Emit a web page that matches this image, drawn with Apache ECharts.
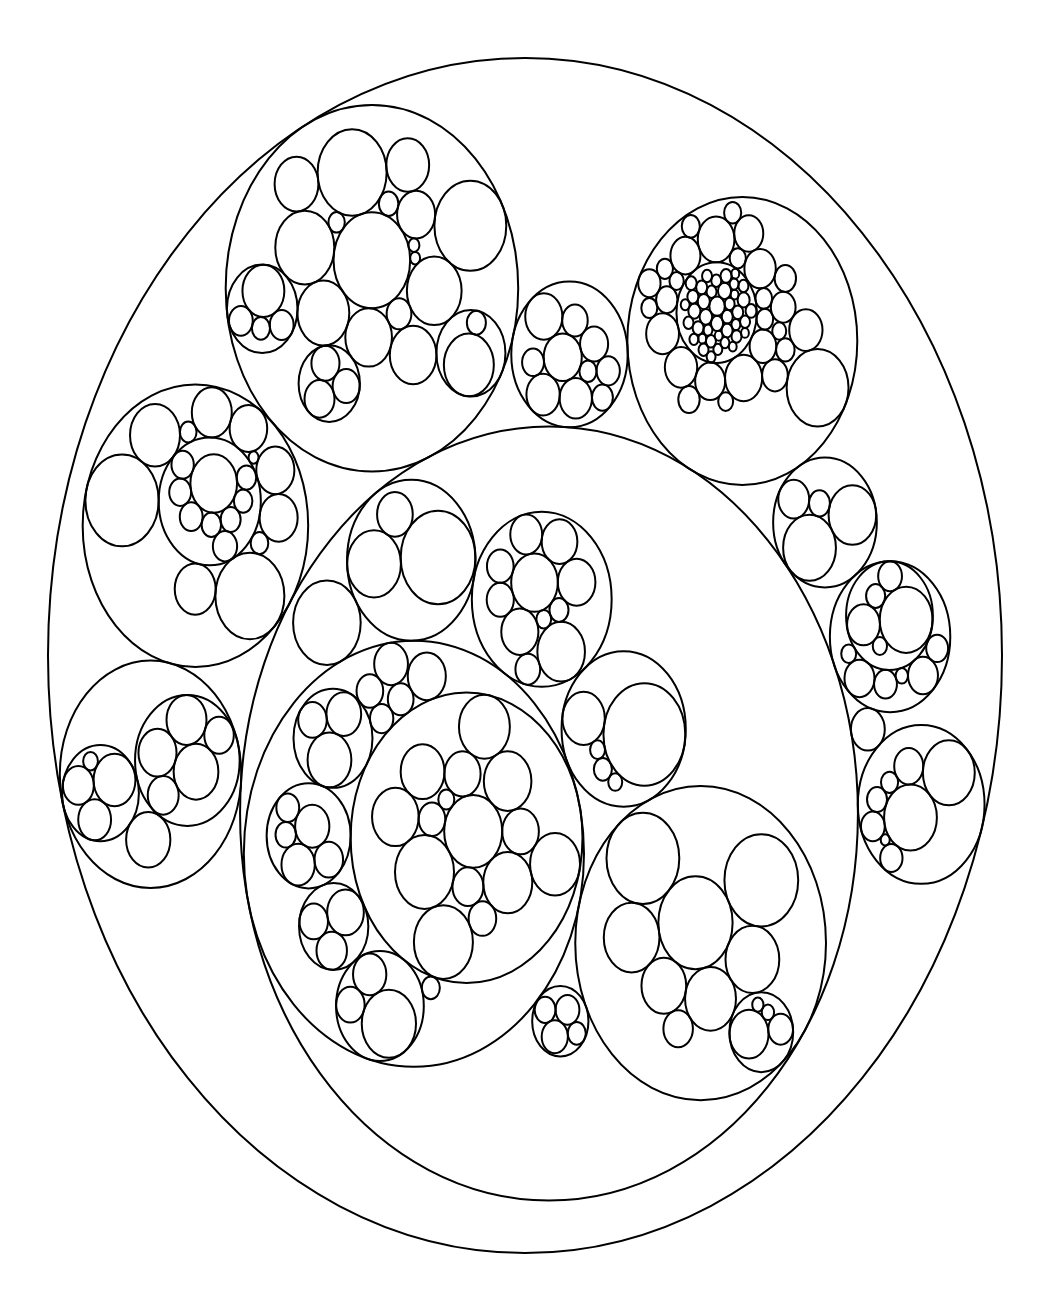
<!DOCTYPE html>
<html><head><meta charset="utf-8">
<script src="https://cdn.jsdelivr.net/npm/echarts@6/dist/echarts.min.js"></script>
<style>html,body{margin:0;padding:0;background:#fff}#chart{width:1050px;height:1312px}</style>
</head><body><div id="chart"></div>
<script>
// ---- DATA: leaf values (area units); each array lists a group's children in packing order ----
const groupD   = [1600, 324, 870, 1156, 718, 1225, 600, 484, 1521, 529];
const groupCS  = [264, 161, 134, 176, 110, 161, 134, 88, 190, 110, 134, 68, 110, 161, 88, 134, 110, 68, 134, 88,
                  110, 161, 68, 110, 134, 88, 110, 68, 134, 88, 110, 134, 68, 88, 110, 134, 88, 110, 68, 88];
const groupC   = [306, groupCS, 784, 306, 1521, 1089, 992, 289, 676, 1482, 1156, 216, 992, 506, 1190, 225, 930,
                  729, 506, 282, 324, 380, 246, 289, 552, 1225, 506, 4225, 361];
const groupB1  = [1936, 361, 625, 625];
const groupB2  = [870, 992, 812];
const groupB3  = [400, 2756];
const groupB   = [6480, 296, 3844, 5256, 2970, 420, 1600, 2401, 132, 2116, 110, 676, 3306, 2025, 5700, groupB1,
                  2401, groupB2, groupB3];
const groupE1  = [2401, 420, 441, 576, 380, 529, 420, 650, 552];
const groupE   = [groupE1, 110, 1560, 1600, 1764, 1600, 342, 306, 5256, 2756, 1849, 5929];
const groupF1  = [1936, 1056, 1190, 240];
const groupF2  = [1600, 2209, 1764, 1056, 961];
const groupF   = [2162, groupF2, groupF1];
const groupG   = [3080, 484, 1056, 2500];
const groupH1  = [1190, 3080, 400, 225, 625];
const groupH   = [groupH1, 169, 992, 576, 992, 529, 246];
const groupJ   = [441, 3080, 324, 625, 930, 90, 2970, 552];
const groupA1  = [6162, 1406, 3192];
const groupA3  = [240, 2401, 1521, 400, 812, 1560, 2500, 1406, 784, 676, 1122];
const groupA4  = [7396, 246, 361, 1980, 216];
const groupA5a = [1681, 169, 139, 676];
const groupA5  = [6084, 2862, 3192, 2209, 3422, 6006, 961, groupA5a, 5852];
const groupA6  = [756, 625, 484, 361];
const groupA7a = [3721, 1056, 2652, 3844, 1482, 784, 841, 3844, 282, 2500, 1444, 2862, 2401, 2756, 2116];
const groupA7b = [2116, 1332, 900];
const groupA7c = [1296, 1225, 900, 462, 576];
const groupA7d = [1482, 900, 1024];
const groupA7e = [3249, 1225, 900];
const groupA7  = [groupA7a, groupA7c, groupA7d, groupA7b, groupA7e, 600, 729, 361, 1600, 784, 1260];
const groupA   = [groupA7, groupA4, groupA3, groupA5, groupA1, groupA6, 5041];
const rootChildren = [groupA, groupD, groupB, groupC, groupG, groupE, groupH, groupF, 1267, groupJ];

// ---- layout option: orientation (degrees) of the first sibling pair in each group ----
const groupTilt = new Map([
  [rootChildren, -176.8], [groupA, -115.4], [groupB, 130.7], [groupC, 96.2], [groupD, -66.1], [groupE, -128.6],
  [groupE1, 4.1], [groupF, -148.3], [groupF1, 83.3], [groupF2, -68.5], [groupG, -164.4], [groupH, -14.4],
  [groupH1, -95.3], [groupJ, -66.8], [groupA1, 128.6], [groupA3, 162.4], [groupA4, 75.4], [groupA5, -13.9],
  [groupA5a, -132.6], [groupA6, -149.4], [groupA7, 90.6], [groupA7a, 6.8], [groupA7b, -158.6], [groupA7c, 24.7],
  [groupA7d, 77.2], [groupA7e, 154.0], [groupB1, 4.7], [groupB2, 11.8], [groupB3, 12.6]
]);

// ---- circle packing (front-chain algorithm, as in d3-hierarchy) ----
function Node(c) { this._ = c; this.next = null; this.previous = null; }
function place(b, a, c) {
  var dx = b.x - a.x, x, a2, dy = b.y - a.y, y, b2, d2 = dx * dx + dy * dy;
  if (d2) {
    a2 = a.r + c.r; a2 *= a2; b2 = b.r + c.r; b2 *= b2;
    if (a2 > b2) {
      x = (d2 + b2 - a2) / (2 * d2); y = Math.sqrt(Math.max(0, b2 / d2 - x * x));
      c.x = b.x - x * dx - y * dy; c.y = b.y - x * dy + y * dx;
    } else {
      x = (d2 + a2 - b2) / (2 * d2); y = Math.sqrt(Math.max(0, a2 / d2 - x * x));
      c.x = a.x + x * dx - y * dy; c.y = a.y + x * dy + y * dx;
    }
  } else { c.x = a.x + c.r; c.y = a.y; }
}
function intersects(a, b) { var dr = a.r + b.r - 1e-6, dx = b.x - a.x, dy = b.y - a.y; return dr > 0 && dr * dr > dx * dx + dy * dy; }
function score(node) {
  var a = node._, b = node.next._, ab = a.r + b.r,
      dx = (a.x * b.r + b.x * a.r) / ab, dy = (a.y * b.r + b.y * a.r) / ab;
  return dx * dx + dy * dy;
}
function lcg() { let s = 1; return () => (s = (1664525 * s + 1013904223) % 4294967296) / 4294967296; }
function shuffle(arr, random) { let m = arr.length, t, i; while (m) { i = random() * m-- | 0; t = arr[m]; arr[m] = arr[i]; arr[i] = t; } return arr; }
function enclosesNot(a, b) { var dr = a.r - b.r, dx = b.x - a.x, dy = b.y - a.y; return dr < 0 || dr * dr < dx * dx + dy * dy; }
function enclosesWeak(a, b) { var dr = a.r - b.r + Math.max(a.r, b.r, 1) * 1e-9, dx = b.x - a.x, dy = b.y - a.y; return dr > 0 && dr * dr > dx * dx + dy * dy; }
function enclosesWeakAll(a, B) { for (var i = 0; i < B.length; ++i) if (!enclosesWeak(a, B[i])) return false; return true; }
function encloseBasis2(a, b) {
  var x1 = a.x, y1 = a.y, r1 = a.r, x2 = b.x, y2 = b.y, r2 = b.r,
      x21 = x2 - x1, y21 = y2 - y1, r21 = r2 - r1, l = Math.sqrt(x21 * x21 + y21 * y21);
  return { x: (x1 + x2 + x21 / l * r21) / 2, y: (y1 + y2 + y21 / l * r21) / 2, r: (l + r1 + r2) / 2 };
}
function encloseBasis3(a, b, c) {
  var x1 = a.x, y1 = a.y, r1 = a.r, x2 = b.x, y2 = b.y, r2 = b.r, x3 = c.x, y3 = c.y, r3 = c.r,
      a2 = x1 - x2, a3 = x1 - x3, b2 = y1 - y2, b3 = y1 - y3, c2 = r2 - r1, c3 = r3 - r1,
      d1 = x1 * x1 + y1 * y1 - r1 * r1, d2 = d1 - x2 * x2 - y2 * y2 + r2 * r2, d3 = d1 - x3 * x3 - y3 * y3 + r3 * r3,
      ab = a3 * b2 - a2 * b3,
      xa = (b2 * d3 - b3 * d2) / (ab * 2) - x1, xb = (b3 * c2 - b2 * c3) / ab,
      ya = (a3 * d2 - a2 * d3) / (ab * 2) - y1, yb = (a2 * c3 - a3 * c2) / ab,
      A = xb * xb + yb * yb - 1, B = 2 * (r1 + xa * xb + ya * yb), C = xa * xa + ya * ya - r1 * r1,
      r = -(Math.abs(A) > 1e-6 ? (B + Math.sqrt(B * B - 4 * A * C)) / (2 * A) : C / B);
  return { x: x1 + xa + xb * r, y: y1 + ya + yb * r, r: r };
}
function encloseBasis(B) {
  if (B.length === 1) return { x: B[0].x, y: B[0].y, r: B[0].r };
  if (B.length === 2) return encloseBasis2(B[0], B[1]);
  return encloseBasis3(B[0], B[1], B[2]);
}
function extendBasis(B, p) {
  var i, j;
  if (enclosesWeakAll(p, B)) return [p];
  for (i = 0; i < B.length; ++i)
    if (enclosesNot(p, B[i]) && enclosesWeakAll(encloseBasis2(B[i], p), B)) return [B[i], p];
  for (i = 0; i < B.length - 1; ++i)
    for (j = i + 1; j < B.length; ++j)
      if (enclosesNot(encloseBasis2(B[i], B[j]), p) && enclosesNot(encloseBasis2(B[i], p), B[j]) &&
          enclosesNot(encloseBasis2(B[j], p), B[i]) && enclosesWeakAll(encloseBasis3(B[i], B[j], p), B))
        return [B[i], B[j], p];
  throw new Error('enclose');
}
function packEnclose(circles) {
  var i = 0, list = shuffle(circles.slice(), lcg()), n = list.length, B = [], p, e;
  while (i < n) { p = list[i]; if (e && enclosesWeak(e, p)) ++i; else { B = extendBasis(B, p); e = encloseBasis(B); i = 0; } }
  return e;
}
function packSiblings(circles) {
  var n = circles.length, a, b, c, aa, ca, i, j, k, sj, sk;
  if (!n) return 0;
  a = circles[0]; a.x = 0; a.y = 0;
  if (n === 1) return a.r;
  b = circles[1]; a.x = -b.r; b.x = a.r; b.y = 0;
  if (n === 2) return a.r + b.r;
  place(b, a, c = circles[2]);
  a = new Node(a); b = new Node(b); c = new Node(c);
  a.next = c.previous = b; b.next = a.previous = c; c.next = b.previous = a;
  pack: for (i = 3; i < n; ++i) {
    place(a._, b._, c = circles[i]); c = new Node(c);
    j = b.next; k = a.previous; sj = b._.r; sk = a._.r;
    do {
      if (sj <= sk) {
        if (intersects(j._, c._)) { b = j; a.next = b; b.previous = a; --i; continue pack; }
        sj += j._.r; j = j.next;
      } else {
        if (intersects(k._, c._)) { a = k; a.next = b; b.previous = a; --i; continue pack; }
        sk += k._.r; k = k.previous;
      }
    } while (j !== k.next);
    c.previous = a; c.next = b; a.next = b.previous = b = c;
    aa = score(a);
    while ((c = c.next) !== b) { if ((ca = score(c)) < aa) { a = c; aa = ca; } }
    b = a.next;
  }
  a = [b._]; c = b; while ((c = c.next) !== b) a.push(c._);
  c = packEnclose(a);
  for (i = 0; i < n; ++i) { a = circles[i]; a.x -= c.x; a.y -= c.y; }
  return c.r;
}

// ---- build hierarchy from the arrays ----
function build(item) {
  if (Array.isArray(item)) return { children: item.map(build), tilt: groupTilt.get(item) || 0 };
  return { value: item };
}
function packNode(node) {
  if (!node.children) { node.r = Math.sqrt(node.value); return; }
  node.children.forEach(packNode);
  node.r = packSiblings(node.children);
}
const nodes = [];
function locate(node, cx, cy, depth) {
  node.X = cx; node.Y = cy; node.depth = depth;
  nodes.push(node);
  if (!node.children) return;
  const phi = node.tilt * Math.PI / 180, cs = Math.cos(phi), sn = Math.sin(phi);
  node.children.forEach(ch => {
    const X = ch.y, Y = ch.x;
    locate(ch, cx + X * cs - Y * sn, cy + X * sn + Y * cs, depth + 1);
  });
}
const root = build(rootChildren);
packNode(root);
locate(root, 0, 0, 0);
const R = root.r;
const seriesData = nodes.map(n => [n.X, n.Y, n.r, n.depth]);

const chart = echarts.init(document.getElementById('chart'), null, { renderer: 'canvas' });
chart.setOption({
  backgroundColor: '#ffffff',
  animation: false,
  grid: { left: 48, right: 48, top: 58, bottom: 59 },
  xAxis: { type: 'value', min: -R, max: R, show: false },
  yAxis: { type: 'value', min: -R, max: R, inverse: true, show: false },
  series: [{
    type: 'custom',
    coordinateSystem: 'cartesian2d',
    clip: false,
    silent: true,
    data: seriesData,
    renderItem: function (params, api) {
      const p = api.coord([api.value(0), api.value(1)]);
      const sz = api.size([api.value(2) * 2, api.value(2) * 2], [api.value(0), api.value(1)]);
      return {
        type: 'ellipse',
        shape: { cx: p[0], cy: p[1], rx: sz[0] / 2, ry: sz[1] / 2 },
        style: { fill: 'none', stroke: '#000', lineWidth: 2 }
      };
    }
  }]
});
</script>
</body></html>
